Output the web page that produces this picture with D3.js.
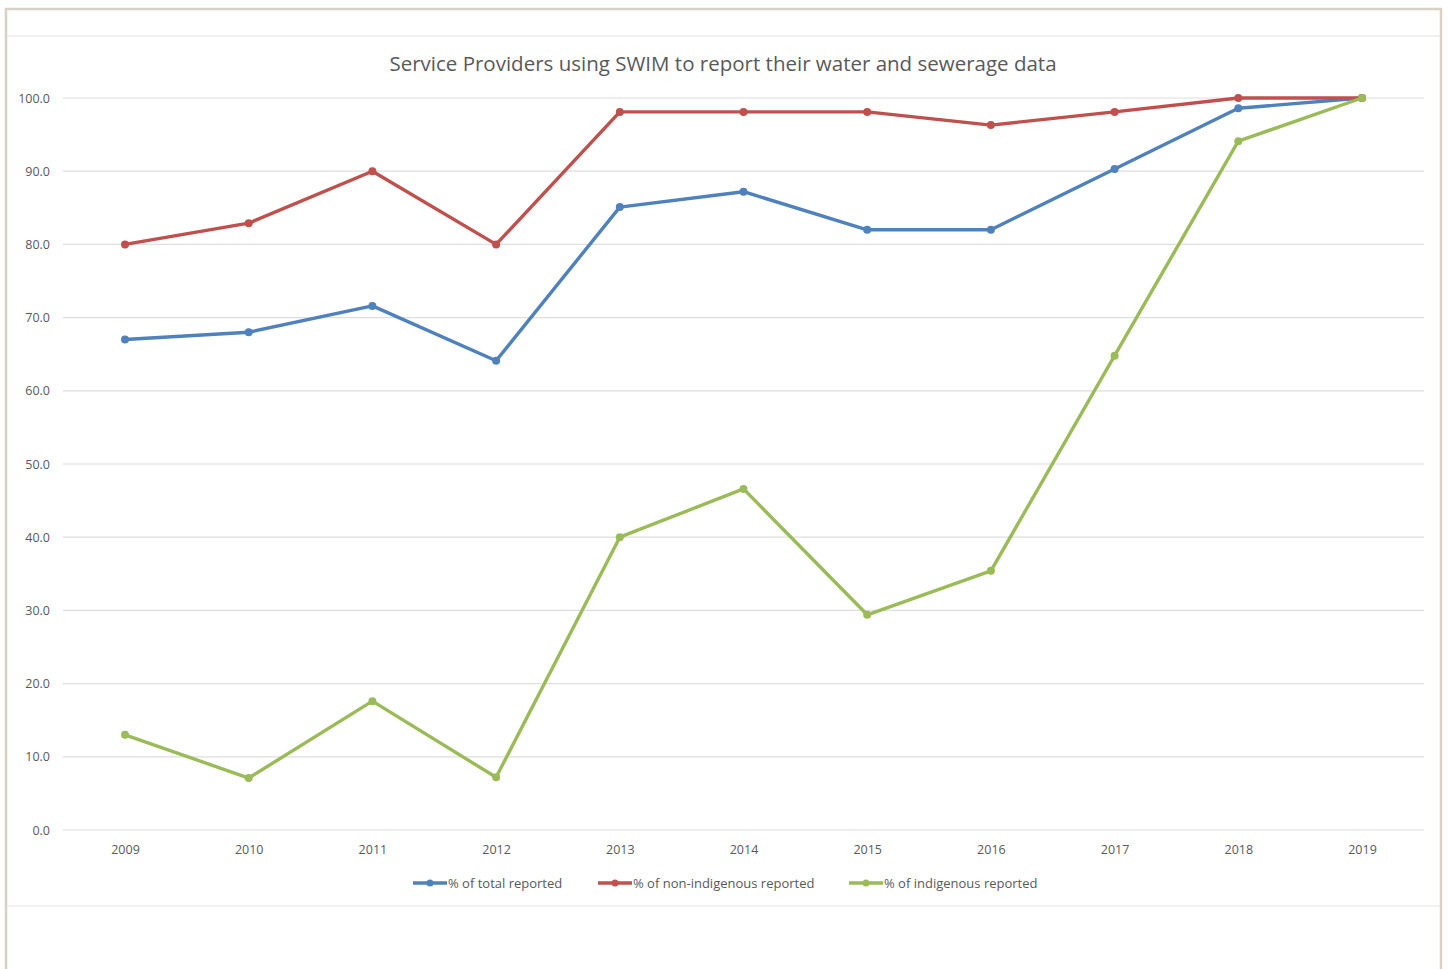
<!DOCTYPE html>
<html>
<head>
<meta charset="utf-8">
<script src="https://cdn.jsdelivr.net/npm/d3@7"></script>
<style>
  body { margin: 0; background: #fff; }
  svg text { font-family: "Open Sans", "Noto Sans", sans-serif; fill: #595959; }
</style>
</head>
<body>
<svg id="chart" width="1448" height="969"></svg>
<script>
// Data
const years = ['2009', '2010', '2011', '2012', '2013', '2014', '2015', '2016', '2017', '2018', '2019'];
const totalReported = [67.0, 68.0, 71.6, 64.1, 85.1, 87.2, 82.0, 82.0, 90.3, 98.6, 100.0];
const nonIndigenousReported = [80.0, 82.9, 90.0, 80.0, 98.1, 98.1, 98.1, 96.3, 98.1, 100.0, 100.0];
const indigenousReported = [13.0, 7.1, 17.6, 7.2, 40.0, 46.6, 29.4, 35.4, 64.8, 94.1, 100.0];
const yTicks = [0, 10, 20, 30, 40, 50, 60, 70, 80, 90, 100];
const seriesNames = ['% of total reported', '% of non-indigenous reported', '% of indigenous reported'];
const colors = ['#4f81bd', '#c0504d', '#9bbb59'];

const svg = d3.select('#chart');

// Outer frame
svg.append('rect')
    .attr('x', 6).attr('y', 9)
    .attr('width', 1435).attr('height', 975)
    .attr('fill', '#fff')
    .attr('stroke', '#d9d1c3')
    .attr('stroke-width', 2.5);

// Chart area bounds
[36, 906].forEach(y => {
    svg.append('line')
        .attr('x1', 7).attr('x2', 1440)
        .attr('y1', y).attr('y2', y)
        .attr('stroke', '#e4e4e4')
        .attr('stroke-width', 1);
});

// Title
svg.append('text')
    .attr('x', 723).attr('y', 71)
    .attr('text-anchor', 'middle')
    .attr('font-size', '20.5px')
    .text('Service Providers using SWIM to report their water and sewerage data');

// Scales
const x = d3.scalePoint().domain(years).range([125, 1362]);
const y = d3.scaleLinear().domain([0, 100]).range([830, 98]);

// Horizontal grid
svg.append('g')
    .selectAll('line')
    .data(yTicks)
    .enter()
    .append('line')
    .attr('x1', 63).attr('x2', 1424)
    .attr('y1', d => y(d)).attr('y2', d => y(d))
    .attr('stroke', '#dedede')
    .attr('stroke-width', 1.2);

// Y axis labels
svg.append('g')
    .attr('transform', 'translate(50,0)')
    .call(d3.axisLeft(y).tickValues(yTicks).tickSize(0).tickPadding(0).tickFormat(d3.format('.1f')))
    .call(g => g.select('.domain').remove())
    .call(g => g.selectAll('text').attr('font-size', '12.5px').attr('fill', '#595959'));

// X axis labels
svg.append('g')
    .attr('transform', 'translate(0,845)')
    .call(d3.axisBottom(x).tickSize(0).tickPadding(0))
    .call(g => g.select('.domain').remove())
    .call(g => g.selectAll('text').attr('font-size', '12.5px').attr('fill', '#595959').attr('dy', '0.71em'));

// Series
const allSeries = [totalReported, nonIndigenousReported, indigenousReported];
const line = d3.line()
    .x((d, i) => x(years[i]))
    .y(d => y(d));

allSeries.forEach((values, s) => {
    svg.append('path')
        .datum(values)
        .attr('fill', 'none')
        .attr('stroke', colors[s])
        .attr('stroke-width', 3.4)
        .attr('stroke-linejoin', 'round')
        .attr('d', line);

    svg.append('g')
        .selectAll('circle')
        .data(values)
        .enter()
        .append('circle')
        .attr('cx', (d, i) => x(years[i]))
        .attr('cy', d => y(d))
        .attr('r', 4)
        .attr('fill', colors[s]);
});

// Legend
const legendX = [413, 598, 849];
seriesNames.forEach((name, s) => {
    const g = svg.append('g').attr('transform', `translate(${legendX[s]},883)`);
    g.append('line')
        .attr('x1', 0).attr('x2', 34)
        .attr('y1', 0).attr('y2', 0)
        .attr('stroke', colors[s])
        .attr('stroke-width', 3.4);
    g.append('circle')
        .attr('cx', 17).attr('cy', 0)
        .attr('r', 3.5)
        .attr('fill', colors[s]);
    g.append('text')
        .attr('x', 35).attr('y', 0)
        .attr('dy', '0.35em')
        .attr('font-size', '13px')
        .text(name);
});
</script>
</body>
</html>
